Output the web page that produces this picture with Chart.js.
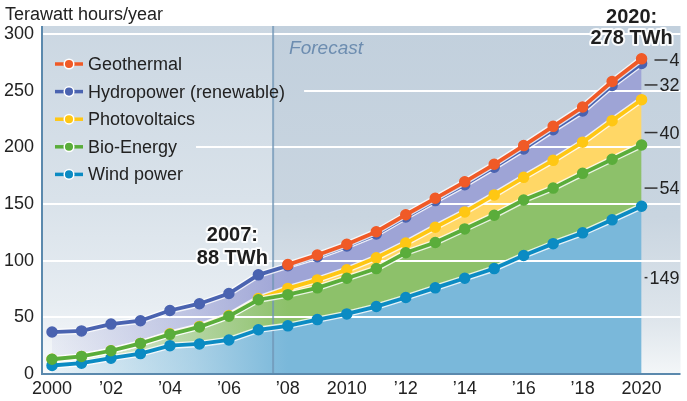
<!DOCTYPE html>
<html>
<head>
<meta charset="utf-8">
<script src="https://cdn.jsdelivr.net/npm/chart.js@4.4.1/dist/chart.umd.min.js"></script>
<style>
  html, body { margin: 0; padding: 0; background: #fff; }
</style>
</head>
<body>
<canvas id="energy" width="687" height="401"></canvas>
<script>
// Renewable electricity, Germany (TWh per year), stacked bands
const years = [2000, 2001, 2002, 2003, 2004, 2005, 2006, 2007, 2008, 2009, 2010,
  2011, 2012, 2013, 2014, 2015, 2016, 2017, 2018, 2019, 2020];
const xTicks = [2000, 2002, 2004, 2006, 2008, 2010, 2012, 2014, 2016, 2018, 2020];
const yTicks = [0, 50, 100, 150, 200, 250, 300];

// band values
const windTWh = [7.5, 9.5, 14, 18, 25, 26.5, 30, 39, 42.5, 48, 53, 59.5, 67.5, 76, 84.5, 93, 104.5, 115, 124.5, 136, 148];
const bioTWh = [5.5, 6, 6.5, 9, 10, 15, 21, 26.5, 27.5, 28, 31.5, 33.5, 39.5, 40, 43.5, 47, 49, 49, 52.5, 53.5, 54];
const pvTWh = [0, 0, 0, 0, 0.5, 0.5, 0.5, 1, 5.5, 7, 7.5, 9.5, 8.5, 13.5, 15, 18, 20, 24.5, 27.5, 34, 40];
const hydroTWh = [24, 22.5, 23.5, 20, 20.5, 20, 19.5, 21, 20, 20.5, 21, 21, 23, 23.5, 24, 24.5, 25, 27, 27.5, 31, 32];
const geoTWh = [null, null, null, null, null, null, null, null, 1, 1.5, 1.5, 2, 2, 2, 2.5, 2.5, 3, 3, 3.5, 3.5, 4];

// 2020 band labels on the right and where they sit (TWh)
const bandLabels = ["4", "32", "40", "54", "149"];
const bandLabelAt = [277, 255, 213, 164, 85];

const forecastFrom = 2007.5;
const FONT = "'Liberation Sans', Arial, Helvetica, sans-serif";

function addUp(base, band) {
  return band.map((v, i) => (v === null ? null : +(base[i] + v).toFixed(2)));
}
const windTop = windTWh.slice();
const bioTop = addUp(windTop, bioTWh);
const pvTop = addUp(bioTop, pvTWh);
const hydroTop = addUp(pvTop, hydroTWh);
const geoTop = addUp(hydroTop, geoTWh);

// history part of each band fades out towards 2000
function bandFill(rgb) {
  return (ctx) => {
    const chart = ctx.chart;
    if (!chart.chartArea) return "rgb(" + rgb + ")";
    const x = chart.scales.x;
    const g = chart.ctx.createLinearGradient(x.getPixelForValue(2000), 0, x.getPixelForValue(2008), 0);
    g.addColorStop(0, "rgba(" + rgb + ",0.12)");
    g.addColorStop(0.6, "rgba(" + rgb + ",0.6)");
    g.addColorStop(1, "rgba(" + rgb + ",1)");
    return g;
  };
}

const series = [
  { label: "Wind power", top: windTop, color: "#0b8bc3", band: "122,184,218", fill: "origin", order: 2 },
  { label: "Bio-Energy", top: bioTop, color: "#5aad3b", band: "141,193,106", fill: 0, order: 1 },
  { label: "Photovoltaics", top: pvTop, color: "#ffc713", band: "255,215,102", fill: 1, order: 3 },
  { label: "Hydropower (renewable)", top: hydroTop, color: "#4a63b0", band: "158,164,214", fill: 2, order: 4 },
  { label: "Geothermal", top: geoTop, color: "#f05a27", band: "246,170,140", fill: 3, order: 0 },
];

const datasets = series.map((s) => ({
  label: s.label,
  data: years.map((yr, i) => ({ x: yr, y: s.top[i] })),
  borderColor: s.color,
  backgroundColor: bandFill(s.band),
  pointBackgroundColor: s.color,
  fill: s.fill,
  order: s.order,
}));

const decor = {
  id: "decor",
  beforeDraw(chart) {
    const { ctx, chartArea: a, scales } = chart;
    const xf = scales.x.getPixelForValue(forecastFrom);
    const left = ctx.createLinearGradient(0, a.top, 0, a.bottom);
    left.addColorStop(0, "#cbd7e2");
    left.addColorStop(0.5, "#d9e2ea");
    left.addColorStop(0.8, "#e7edf2");
    left.addColorStop(1, "#f8fafb");
    const right = ctx.createLinearGradient(0, a.top, 0, a.bottom);
    right.addColorStop(0, "#c2d0dd");
    right.addColorStop(0.55, "#c9d5e0");
    right.addColorStop(0.85, "#dfe6ec");
    right.addColorStop(1, "#f3f6f8");
    ctx.save();
    ctx.fillStyle = left;
    ctx.fillRect(a.left, a.top, xf - a.left, a.bottom - a.top);
    ctx.fillStyle = right;
    ctx.fillRect(xf, a.top, a.right - xf, a.bottom - a.top);
    ctx.restore();
  },
  beforeDatasetsDraw(chart) {
    const { ctx, chartArea: a, scales } = chart;
    const rows = legendRows(chart);
    ctx.save();
    ctx.font = "18px " + FONT;
    ctx.strokeStyle = "#ffffff";
    ctx.lineWidth = 2;
    yTicks.forEach((v) => {
      if (v === 0) return;
      const y = Math.round(scales.y.getPixelForValue(v));
      let x0 = a.left;
      rows.forEach((r) => {
        if (Math.abs(r.y - y) < 8) x0 = r.textX + ctx.measureText(r.label).width + 19;
      });
      ctx.beginPath();
      ctx.moveTo(x0, y);
      ctx.lineTo(a.right, y);
      ctx.stroke();
    });
    const xf = scales.x.getPixelForValue(forecastFrom);
    ctx.strokeStyle = "rgba(112,150,182,0.75)";
    ctx.beginPath();
    ctx.moveTo(xf, a.top);
    ctx.lineTo(xf, a.bottom);
    ctx.stroke();
    ctx.restore();
  },
  beforeDatasetDraw(chart, args) {
    const line = args.meta.dataset;
    if (!line || !line.points || !line.points.length) return;
    const ctx = chart.ctx;
    ctx.save();
    ctx.beginPath();
    line.path(ctx);
    ctx.strokeStyle = "rgba(255,255,255,0.8)";
    ctx.lineWidth = 6.5;
    ctx.lineJoin = "round";
    ctx.stroke();
    ctx.restore();
  },
  afterDraw(chart) {
    const { ctx, chartArea: a, scales } = chart;
    const x = scales.x, y = scales.y;
    ctx.save();
    // axes
    ctx.strokeStyle = "#5b89ad";
    ctx.lineWidth = 2;
    ctx.beginPath();
    ctx.moveTo(a.left, a.top);
    ctx.lineTo(a.left, a.bottom);
    ctx.lineTo(a.right, a.bottom);
    ctx.stroke();

    // unit title
    ctx.fillStyle = "#222";
    ctx.font = "18px " + FONT;
    ctx.textAlign = "left";
    ctx.textBaseline = "alphabetic";
    ctx.fillText("Terawatt hours/year", 5, 20);

    // legend
    legendRows(chart).forEach((r) => {
      ctx.strokeStyle = r.color;
      ctx.lineWidth = 3.5;
      ctx.beginPath();
      ctx.moveTo(r.iconX - 14, r.y);
      ctx.lineTo(r.iconX + 14, r.y);
      ctx.stroke();
      ctx.beginPath();
      ctx.arc(r.iconX, r.y, 4.8, 0, Math.PI * 2);
      ctx.fillStyle = r.color;
      ctx.fill();
      ctx.strokeStyle = "#fff";
      ctx.lineWidth = 1.5;
      ctx.stroke();
      ctx.fillStyle = "#222";
      ctx.font = "18px " + FONT;
      ctx.textBaseline = "middle";
      ctx.fillText(r.label, r.textX, r.y + 1);
    });

    // forecast caption
    const xf = x.getPixelForValue(forecastFrom);
    ctx.font = "italic 19px " + FONT;
    ctx.fillStyle = "#6d8db0";
    ctx.textBaseline = "alphabetic";
    ctx.fillText("Forecast", xf + 16, 54);

    // totals
    const total07 = geoTop[7] !== null ? geoTop[7] : hydroTop[7];
    const total20 = geoTop[20];
    ctx.font = "bold 20px " + FONT;
    ctx.textAlign = "center";
    ctx.lineJoin = "round";
    const halo = (txt, tx, ty) => {
      ctx.strokeStyle = "rgba(255,255,255,0.9)";
      ctx.lineWidth = 4;
      ctx.strokeText(txt, tx, ty);
      ctx.fillStyle = "#1e1e1e";
      ctx.fillText(txt, tx, ty);
    };
    const x07 = x.getPixelForValue(2007) - 26, y07 = y.getPixelForValue(total07);
    halo("2007:", x07, y07 - 34);
    halo(Math.round(total07) + " TWh", x07, y07 - 11);
    const x20 = x.getPixelForValue(2020) - 10, y20 = y.getPixelForValue(total20);
    halo("2020:", x20, y20 - 36);
    halo(Math.round(total20) + " TWh", x20, y20 - 15);

    // band labels at 2020
    ctx.font = "18px " + FONT;
    ctx.textAlign = "right";
    ctx.textBaseline = "middle";
    bandLabels.forEach((t, i) => {
      const ty = y.getPixelForValue(bandLabelAt[i]);
      const tw = ctx.measureText(t).width;
      const tl = a.right - 1 - tw;
      ctx.strokeStyle = "#333";
      ctx.lineWidth = 1.5;
      ctx.beginPath();
      ctx.moveTo(Math.max(x.getPixelForValue(2020) + 3, tl - 15), ty);
      ctx.lineTo(tl - 2, ty);
      ctx.stroke();
      ctx.fillStyle = "#222";
      ctx.fillText(t, a.right - 1, ty + 1);
    });
    ctx.restore();
  },
};

function legendRows(chart) {
  const a = chart.chartArea;
  return series.slice().reverse().map((s, i) => ({
    label: s.label,
    color: s.color,
    iconX: a.left + 27,
    textX: a.left + 46,
    y: a.top + 38 + i * 27.6,
  }));
}

new Chart(document.getElementById("energy"), {
  type: "line",
  data: { datasets },
  options: {
    responsive: false,
    animation: false,
    devicePixelRatio: 1,
    layout: { padding: { top: 26, right: 5, left: 0, bottom: 0 } },
    elements: {
      line: { tension: 0, borderWidth: 3.8 },
      point: { radius: 5, hoverRadius: 5, borderWidth: 1.5, borderColor: "#fff" },
    },
    scales: {
      x: {
        type: "linear",
        min: 1999.66,
        max: 2021.32,
        afterBuildTicks: (s) => { s.ticks = xTicks.map((v) => ({ value: v })); },
        afterFit: (s) => { s.height = 27; },
        ticks: {
          autoSkip: false,
          maxRotation: 0,
          padding: 4,
          color: "#222",
          font: { family: FONT, size: 18 },
          callback: (v) => (v % 10 === 0 ? String(v) : "\u2019" + String(v).slice(2)),
        },
        grid: { display: false, drawTicks: false, tickLength: 0 },
        border: { display: false },
      },
      y: {
        min: 0,
        max: 307,
        afterBuildTicks: (s) => { s.ticks = yTicks.map((v) => ({ value: v })); },
        afterFit: (s) => { s.width = 42; },
        ticks: { padding: 8, color: "#222", font: { family: FONT, size: 18 } },
        grid: { display: false, drawTicks: false, tickLength: 0 },
        border: { display: false },
      },
    },
    plugins: {
      legend: { display: false },
      tooltip: { enabled: false },
      filler: { drawTime: "beforeDatasetsDraw" },
    },
  },
  plugins: [decor],
});
</script>
</body>
</html>
